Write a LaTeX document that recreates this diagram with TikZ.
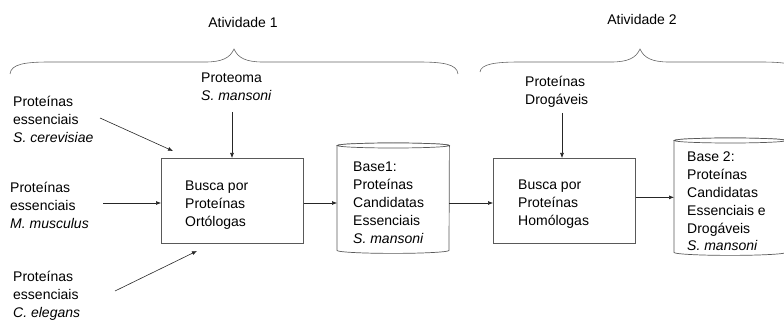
\documentclass[tikz,border=0pt]{standalone}
\usepackage{fontspec}
\setmainfont{Liberation Sans}
\usetikzlibrary{arrows.meta}

\begin{document}
\begin{tikzpicture}[x=1pt,y=-1pt,
  % multi-line labels are anchored at the baseline of their last line
  lbl/.style={align=left, inner sep=0pt, anchor=base west,
    font=\fontsize{14}{17.8}\selectfont},
  title/.style={inner sep=0pt, anchor=base, font=\fontsize{14}{17.8}\selectfont},
  procbox/.style={draw=black!65, line width=0.7pt, minimum width=142pt,
    minimum height=85pt, anchor=north west, inner sep=0pt},
  cylbody/.style={inner sep=0pt, minimum width=112pt, anchor=north west},
  cylline/.style={draw=black!65, line width=0.7pt, fill=white},
  conn/.style={draw=black!85, line width=0.6pt, -{Latex[length=5pt,width=4pt]}},
  brace/.style={draw=black!60, line width=0.6pt}]
\useasboundingbox (0,0) rectangle (784,320);

% activity headings and their braces
\node[title] (atv1) at (243,28) {Atividade 1};
\node[title] (atv2) at (642,25) {Atividade 2};
\draw[brace] (10,74) .. controls (11,64) and (25,62) .. (50,62) -- (205,62)
  .. controls (222,62) and (230,58) .. (234,49)
  .. controls (238,58) and (246,62) .. (263,62) -- (418,62)
  .. controls (443,62) and (457,64) .. (458,74);
\draw[brace] (480,72) .. controls (481,64) and (495,62) .. (520,62) -- (611,62)
  .. controls (628,62) and (636,58) .. (640,49)
  .. controls (644,58) and (652,62) .. (669,62) -- (760,62)
  .. controls (785,62) and (799,64) .. (800,72);

% input data sets
\node[lbl] (proteoma) at (201,100.8) {Proteoma\\\textit{S. mansoni}};
\node[lbl] (drog) at (525,104.8) {Proteínas\\Drogáveis};
\node[lbl] (cer) at (13,142.6) {Proteínas\\essenciais\\\textit{S. cerevisiae}};
\node[lbl] (mus) at (10,228.6) {Proteínas\\essenciais\\\textit{M. musculus}};
\node[lbl] (ele) at (13,317) {Proteínas\\essenciais\\\textit{C. elegans}};

% processing steps
\node[procbox] (box1) at (161,158) {};
\node[lbl] (box1txt) at (185,226.6) {Busca por\\Proteínas\\Ortólogas};
\node[procbox] (box2) at (493,158) {};
\node[lbl] (box2txt) at (518,225.6) {Busca por\\Proteínas\\Homólogas};

% databases (cylinders)
\node[cylbody, minimum height=104.5pt] (base1) at (337,145.5) {};
\path[cylline] (base1.north west) -- (base1.south west)
  arc[start angle=180, end angle=360, x radius=56pt, y radius=3pt]
  -- (base1.north east) arc[start angle=0, end angle=180, x radius=56pt, y radius=2.5pt]
  -- cycle;
\draw[cylline] (base1.north) ellipse[x radius=56pt, y radius=2.5pt];
\node[lbl] (base1txt) at (353,243.2)
  {Base1:\\Proteínas\\Candidatas\\Essenciais\\\textit{S. mansoni}};

\node[cylbody, minimum height=111.5pt] (base2) at (674,140.5) {};
\path[cylline] (base2.north west) -- (base2.south west)
  arc[start angle=180, end angle=360, x radius=56pt, y radius=3pt]
  -- (base2.north east) arc[start angle=0, end angle=180, x radius=56pt, y radius=2.5pt]
  -- cycle;
\draw[cylline] (base2.north) ellipse[x radius=56pt, y radius=2.5pt];
\node[lbl] (base2txt) at (687,251)
  {Base 2:\\Proteínas\\Candidatas\\Essenciais e\\Drogáveis\\\textit{S. mansoni}};

% connector end points
\coordinate (cerA) at (100,118);
\coordinate (cerB) at (173,151);
\coordinate (musA) at (103,203);
\coordinate (eleA) at (115,291);
\coordinate (eleB) at (197,251);
\coordinate (protA) at (232,112);
\coordinate (drogA) at (562,113);

% connectors
\draw[conn] (cerA) -- (cerB);
\draw[conn] (musA) -- (musA -| box1.west);
\draw[conn] (eleA) -- (eleB);
\draw[conn] (protA) -- (protA |- box1.north);
\draw[conn] (box1.east |- musA) -- (base1.west |- musA);
\draw[conn] (base1.east |- musA) -- (box2.west |- musA);
\draw[conn] (drogA) -- (drogA |- box2.north);
\draw[conn] ([yshift=3.5pt]box2.east) -- ([yshift=3.5pt]box2.east -| base2.west);
\end{tikzpicture}
\end{document}
